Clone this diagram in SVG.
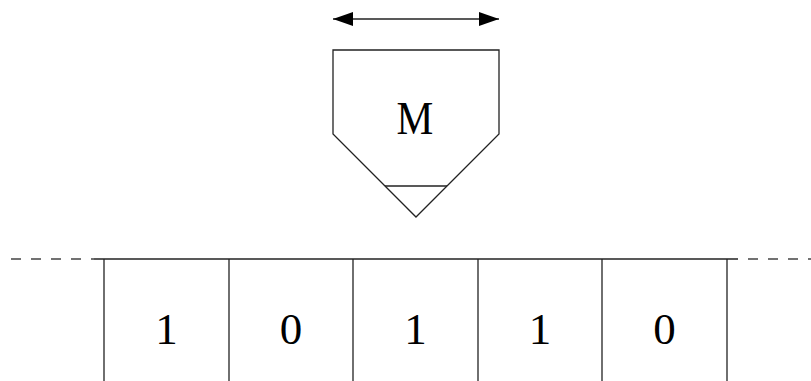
<svg xmlns="http://www.w3.org/2000/svg" width="811" height="381" viewBox="0 0 811 381">
<style>
.ln{stroke:#222;stroke-width:1.3;fill:none}
.dash{stroke:#444;stroke-width:1.3;stroke-dasharray:10 10;fill:none}
.t{font-family:"Liberation Serif","DejaVu Serif",serif;font-size:45px;fill:#000;text-anchor:middle}
</style>
<defs>
<marker id="ah" viewBox="0 0 20 14" refX="20" refY="7" markerWidth="20" markerHeight="14" markerUnits="userSpaceOnUse" orient="auto-start-reverse">
<path d="M0,0 L20,7 L0,14 Z" fill="#000"/>
</marker>
</defs>
<g id="connectors">
<line class="ln" x1="333" y1="19" x2="499" y2="19" stroke="#000" marker-start="url(#ah)" marker-end="url(#ah)"/>
</g>
<g id="head">
<path class="ln" d="M333,50 L499,50 L499,134 L416,217 L333,134 Z"/>
<line class="ln" x1="385" y1="186" x2="447" y2="186"/>
<text class="t" x="0" y="0" transform="translate(415,134) scale(0.88,1)" style="font-size:47px">M</text>
</g>
<g id="tape">
<line class="dash" x1="11" y1="259" x2="94" y2="259"/>
<line class="ln" x1="94" y1="259" x2="738" y2="259"/>
<line class="dash" x1="748" y1="259" x2="811" y2="259"/>
<line class="ln" x1="104" y1="259" x2="104" y2="381"/>
<line class="ln" x1="229" y1="259" x2="229" y2="381"/>
<line class="ln" x1="353" y1="259" x2="353" y2="381"/>
<line class="ln" x1="478" y1="259" x2="478" y2="381"/>
<line class="ln" x1="602" y1="259" x2="602" y2="381"/>
<line class="ln" x1="727" y1="259" x2="727" y2="381"/>
</g>
<g id="cell1"><text class="t" x="166.5" y="344">1</text></g>
<g id="cell2"><text class="t" x="291" y="344">0</text></g>
<g id="cell3"><text class="t" x="415.5" y="344">1</text></g>
<g id="cell4"><text class="t" x="540" y="344">1</text></g>
<g id="cell5"><text class="t" x="664.5" y="344">0</text></g>
</svg>
